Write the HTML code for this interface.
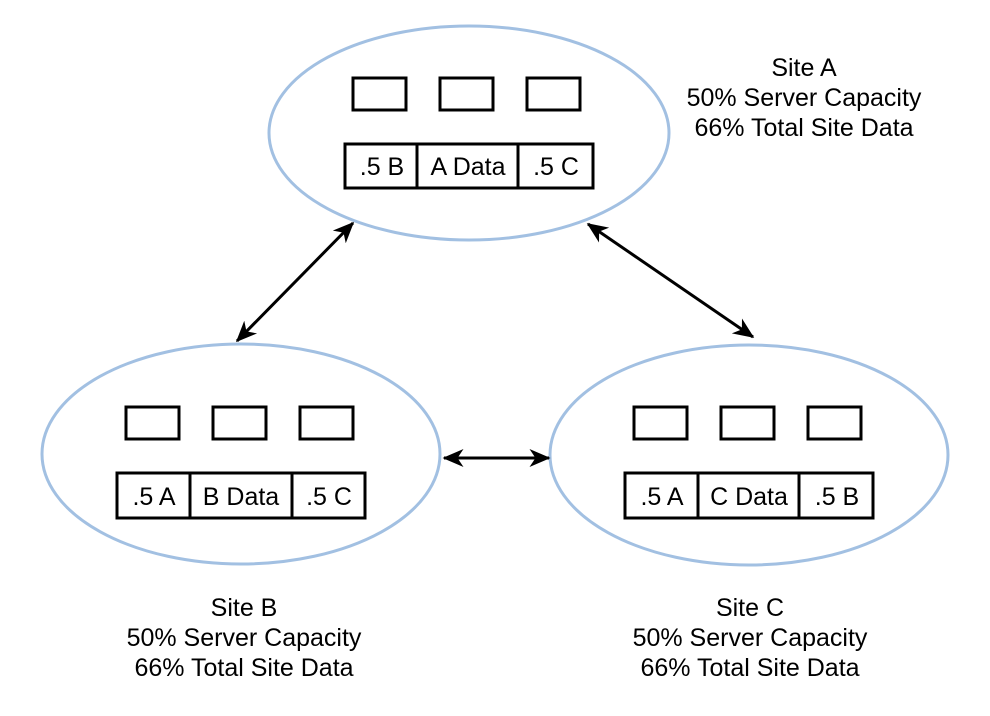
<!DOCTYPE html>
<html><head><meta charset="utf-8"><style>
html,body{margin:0;padding:0;background:#fff;}
svg{display:block;}
text{font-family:"Liberation Sans",Arial,sans-serif;font-size:25px;fill:#000;}
</style></head><body>
<svg width="990" height="716" viewBox="0 0 990 716" xmlns="http://www.w3.org/2000/svg">
<defs>
<marker id="a2" viewBox="0 0 14 12" refX="13" refY="6" markerWidth="22" markerHeight="18" orient="auto-start-reverse" markerUnits="userSpaceOnUse">
<path d="M0,0 L14,6 L0,12 L4,6 Z" fill="#000"/>
</marker>
</defs>
<g fill="none" stroke="#a2c0e2" stroke-width="3">
<ellipse cx="469" cy="133" rx="200" ry="107"/>
<ellipse cx="241" cy="454" rx="199" ry="110"/>
<ellipse cx="749" cy="455" rx="199" ry="110"/>
</g>
<g fill="#fff" stroke="#000" stroke-width="3">
<rect x="353" y="78" width="53" height="32"/><rect x="440" y="78" width="53" height="32"/><rect x="527" y="78" width="53" height="32"/>
<rect x="345" y="144" width="72" height="44"/><rect x="417" y="144" width="101" height="44"/><rect x="518" y="144" width="75" height="44"/>
<rect x="126" y="407" width="53" height="32"/><rect x="213" y="407" width="53" height="32"/><rect x="300" y="407" width="53" height="32"/>
<rect x="117" y="473" width="73" height="45"/><rect x="190" y="473" width="102" height="45"/><rect x="292" y="473" width="73" height="45"/>
<rect x="634" y="407" width="53" height="32"/><rect x="721" y="407" width="53" height="32"/><rect x="808" y="407" width="53" height="32"/>
<rect x="625" y="473" width="73" height="45"/><rect x="698" y="473" width="101" height="45"/><rect x="799" y="473" width="74" height="45"/>
</g>
<g text-anchor="middle">
<text x="382" y="175">.5 B</text><text x="468" y="175">A Data</text><text x="556" y="175">.5 C</text>
<text x="154" y="505">.5 A</text><text x="241" y="505">B Data</text><text x="329" y="505">.5 C</text>
<text x="662" y="505">.5 A</text><text x="749" y="505">C Data</text><text x="837" y="505">.5 B</text>
<text x="804" y="76">Site A</text><text x="804" y="106">50% Server Capacity</text><text x="804" y="136">66% Total Site Data</text>
<text x="244" y="616">Site B</text><text x="244" y="646">50% Server Capacity</text><text x="244" y="676">66% Total Site Data</text>
<text x="750" y="616">Site C</text><text x="750" y="646">50% Server Capacity</text><text x="750" y="676">66% Total Site Data</text>
</g>
<g stroke="#000" stroke-width="3" fill="none">
<line x1="353" y1="223" x2="237" y2="341" marker-start="url(#a2)" marker-end="url(#a2)"/>
<line x1="588" y1="224" x2="753" y2="337" marker-start="url(#a2)" marker-end="url(#a2)"/>
<line x1="444" y1="458" x2="549" y2="458" marker-start="url(#a2)" marker-end="url(#a2)"/>
</g>
</svg>
</body></html>
